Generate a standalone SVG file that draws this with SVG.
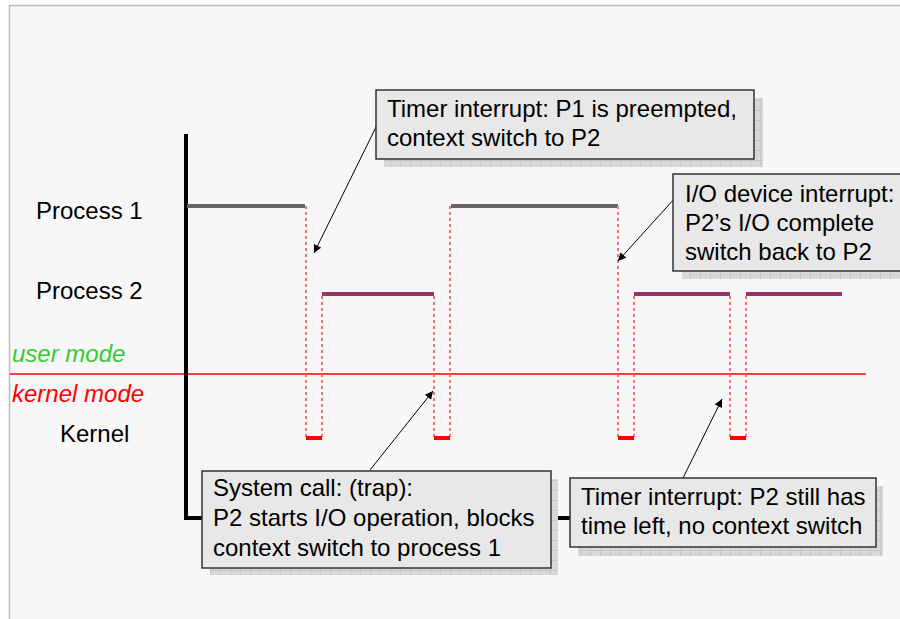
<svg xmlns="http://www.w3.org/2000/svg" width="900" height="619" viewBox="0 0 900 619">
<defs>
<style>
text{font-family:"Liberation Sans",Arial,sans-serif;font-size:24px;fill:#000}
.box{fill:#e8e8e8;stroke:#333;stroke-width:1.5}
.shadow{fill:url(#hatch)}
.dot{stroke:#ff7070;stroke-width:2;stroke-dasharray:3 3;fill:none}
.ker{stroke:#ff0000;stroke-width:4}
.p1{stroke:#666;stroke-width:4}
.p2{stroke:#993366;stroke-width:4}
.arr{stroke:#000;stroke-width:1;fill:none;marker-end:url(#ah)}
</style>
<pattern id="hatch" width="10" height="10" patternUnits="userSpaceOnUse">
<rect width="10" height="10" fill="#d8d8d8"/>
<path d="M0 0.5H10M0.5 0V10" stroke="#c6c6c6" stroke-width="1"/>
</pattern>
<marker id="ah" viewBox="0 0 10 10" refX="10" refY="5" markerWidth="10" markerHeight="8" markerUnits="userSpaceOnUse" orient="auto">
<path d="M0 0L10 5L0 10z" fill="#000"/>
</marker>
</defs>
<rect width="900" height="619" fill="#fff"/>
<rect x="9" y="5" width="891" height="614" fill="#f7f7f7"/>
<path d="M9.5 619V5.5H900" stroke="#bbb" stroke-width="1.5" fill="none"/>

<g id="labels">
<text x="36" y="219">Process 1</text>
<text x="36" y="299">Process 2</text>
<text x="12" y="362" style="fill:#33cc33;font-style:italic">user mode</text>
<text x="12" y="402" style="fill:#ff0000;font-style:italic">kernel mode</text>
<text x="60" y="442">Kernel</text>
</g>

<g id="timeline">
<line x1="10" y1="374" x2="866" y2="374" stroke="#ff0000" stroke-width="1.5"/>
<path d="M186 134V518H572" stroke="#000" stroke-width="4" fill="none"/>
<line class="p1" x1="187" y1="206" x2="305" y2="206"/>
<line class="p1" x1="451" y1="206" x2="618" y2="206"/>
<line class="p2" x1="322" y1="294" x2="434" y2="294"/>
<line class="p2" x1="634" y1="294" x2="730" y2="294"/>
<line class="p2" x1="746" y1="294" x2="842" y2="294"/>
<path class="dot" d="M306 206V438M322 296V438M434 296V438M450 206V438M618 206V438M634 296V438M730 296V438M746 296V438"/>
<line class="ker" x1="306" y1="438" x2="322" y2="438"/>
<line class="ker" x1="434" y1="438" x2="450" y2="438"/>
<line class="ker" x1="618" y1="438" x2="634" y2="438"/>
<line class="ker" x1="730" y1="438" x2="746" y2="438"/>
</g>

<g id="connectors">
<line class="arr" x1="377" y1="125" x2="314" y2="253"/>
<line class="arr" x1="675" y1="198" x2="618" y2="261"/>
<line class="arr" x1="370" y1="470" x2="433" y2="391"/>
<line class="arr" x1="683" y1="478" x2="722" y2="399"/>
</g>

<g id="box-timer1">
<rect class="shadow" x="384" y="98" width="379" height="69"/>
<rect class="box" x="376" y="90" width="378" height="69"/>
<text x="387" y="117">Timer interrupt: P1 is preempted,</text>
<text x="387" y="146">context switch to P2</text>
</g>

<g id="box-io">
<rect class="shadow" x="682" y="182" width="230" height="97"/>
<rect class="box" x="673" y="174" width="240" height="97"/>
<text x="685" y="202">I/O device interrupt:</text>
<text x="685" y="231">P2’s I/O complete</text>
<text x="685" y="260">switch back to P2</text>
</g>

<g id="box-syscall">
<rect class="shadow" x="210" y="479" width="348" height="96"/>
<rect class="box" x="202" y="471" width="349" height="97"/>
<text x="213" y="496">System call: (trap):</text>
<text x="213" y="526">P2 starts I/O operation, blocks</text>
<text x="213" y="556">context switch to process 1</text>
</g>

<g id="box-timer2">
<rect class="shadow" x="578" y="486" width="305" height="70"/>
<rect class="box" x="570" y="478" width="306" height="69"/>
<text x="581" y="505">Timer interrupt: P2 still has</text>
<text x="581" y="534">time left, no context switch</text>
</g>
</svg>
